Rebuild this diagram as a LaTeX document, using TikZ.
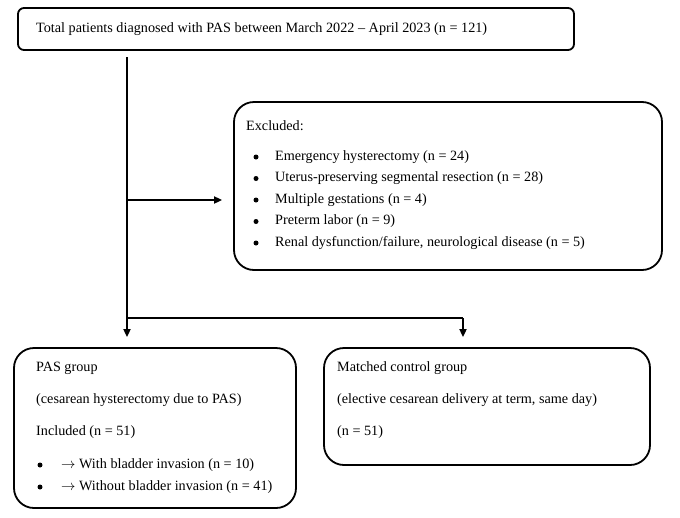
\documentclass[tikz,border=0pt]{standalone}
\usepackage{fontspec}
\setmainfont{Liberation Serif}
\usetikzlibrary{arrows.meta}
\newcommand*{\BulletList}[4]{% #1 = name, #2 = bullet x, #3 = text x, #4 = list of y/text
  \foreach \y/\txt [count=\i] in {#4} {
    \node [dot] (#1bul\i) at (#2,\y) {};
    \node [lbl] (#1\i) at (#3,\y) {\txt};
    }%
}

\begin{document}
\begin{tikzpicture}[x=1pt, y=-1pt,
  box/.style={draw, line width=1.8pt, rounded corners=20pt},
  lbl/.style={anchor=west, inner sep=0pt, font=\fontsize{14.2}{16}\selectfont},
  dot/.style={circle, fill, inner sep=0pt, minimum size=5pt},
  arr/.style={line width=1.8pt, -{Triangle[length=8pt, width=7pt]}},
  line/.style={line width=1.8pt}]
  \useasboundingbox (0,0) rectangle (680,517);
  % boxes
  \node [box, rounded corners=6pt, minimum width=556pt, minimum height=42pt] (total) at (296,29) {};
  \node [box, minimum width=428pt, minimum height=168pt] (excl) at (448,186) {};
  \node [box, minimum width=282pt, minimum height=160pt] (pas) at (155,428) {};
  \node [box, minimum width=326pt, minimum height=117pt] (ctrl) at (487,406.5) {};
  % texts
  \node [lbl] (totaltxt) at (36,29) {Total patients diagnosed with PAS between March 2022 -- April 2023 (n = 121)};
  \node [lbl] (excltxt) at (246,126) {Excluded:};
  \BulletList{excl}{256}{275}{157/{Emergency hysterectomy (n = 24)},
    178.5/{Uterus-preserving segmental resection (n = 28)},
    200/{Multiple gestations (n = 4)},
    221.5/{Preterm labor (n = 9)},
    243/{Renal dysfunction/failure, neurological disease (n = 5)}}
  \node [lbl] (pastxt) at (36,368) {PAS group};
  \node [lbl] (pasdesc) at (36,400) {(cesarean hysterectomy due to PAS)};
  \node [lbl] (pasn) at (36,432) {Included (n = 51)};
  \BulletList{pas}{40}{61}{465/{$\rightarrow$ With bladder invasion (n = 10)},
    487/{$\rightarrow$ Without bladder invasion (n = 41)}}
  \node [lbl] (ctrltxt) at (337,368) {Matched control group};
  \node [lbl] (ctrldesc) at (337,400) {(elective cesarean delivery at term, same day)};
  \node [lbl] (ctrln) at (337,432) {(n = 51)};
  % connectors
  \coordinate (trunk) at (127,57);
  \coordinate (split1) at (127,200);
  \coordinate (split2) at (127,318);
  \coordinate (branch) at (463,318);
  \draw [arr, shorten >=10pt] (trunk) -- (trunk |- pas.north);
  \draw [arr, shorten >=11pt] (split1) -- (split1 -| excl.west);
  \draw [line] (split2) -- (branch);
  \draw [arr, shorten >=10pt] (branch) -- (branch |- ctrl.north);
\end{tikzpicture}
\end{document}
